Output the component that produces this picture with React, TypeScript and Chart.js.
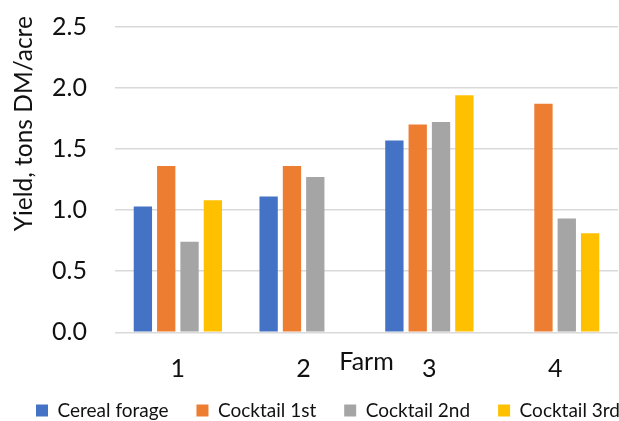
import React, { useEffect, useRef } from 'react';
import { Chart, registerables } from 'chart.js';

Chart.register(...registerables);

// ---- data ----
const FARMS = ['1', '2', '3', '4'];
const SERIES_LABELS = ['Cereal forage', 'Cocktail 1st', 'Cocktail 2nd', 'Cocktail 3rd'];
const CEREAL_FORAGE = [1.03, 1.11, 1.57, null];
const COCKTAIL_1ST = [1.36, 1.36, 1.7, 1.87];
const COCKTAIL_2ND = [0.74, 1.27, 1.72, 0.93];
const COCKTAIL_3RD = [1.08, null, 1.94, 0.81];
const Y_MIN = 0;
const Y_MAX = 2.5;
const Y_STEP = 0.5;
const X_TITLE = 'Farm';
const Y_TITLE = 'Yield, tons DM/acre';

const SERIES_VALUES = [CEREAL_FORAGE, COCKTAIL_1ST, COCKTAIL_2ND, COCKTAIL_3RD];
const COLORS = ['#4472C4', '#ED7D31', '#A5A5A5', '#FFC000'];
const TEXT = '#111111';
const GRID = '#d9d9d9';
const FONT = 'Lato';

const yTitlePlugin = {
  id: 'yTitle',
  afterDraw(chart: any) {
    const { ctx, chartArea } = chart;
    ctx.save();
    ctx.font = `24.5px ${FONT}`;
    ctx.fillStyle = TEXT;
    ctx.textAlign = 'center';
    ctx.textBaseline = 'alphabetic';
    ctx.translate(32, chartArea.top + 97);
    ctx.rotate(-Math.PI / 2);
    ctx.fillText(Y_TITLE, 0, 0);
    ctx.restore();
  },
};

export default function App() {
  const ref = useRef<HTMLCanvasElement | null>(null);

  useEffect(() => {
    document.body.style.margin = '0';
    const canvas = ref.current;
    if (!canvas) return;
    const chart = new Chart(canvas, {
      type: 'bar',
      data: {
        labels: FARMS,
        datasets: SERIES_LABELS.map((label, i) => ({
          label,
          data: SERIES_VALUES[i],
          backgroundColor: COLORS[i],
          borderWidth: 0,
          barPercentage: 0.785,
          categoryPercentage: 0.742,
          xAxisID: 'x',
          yAxisID: 'y',
        })),
      },
      options: {
        responsive: false,
        animation: false,
        layout: { padding: { left: 8, right: -60, top: 26.7, bottom: -9 } },
        plugins: {
          tooltip: { enabled: false },
          legend: {
            position: 'bottom',
            align: 'start',
            labels: {
              boxWidth: 12,
              boxHeight: 12,
              padding: 28,
              color: TEXT,
              font: { family: FONT, size: 19 },
            },
          },
        },
        scales: {
          x: {
            type: 'category',
            grid: { display: false, drawTicks: false },
            border: { display: false },
            ticks: {
              color: TEXT,
              font: { family: FONT, size: 25 },
              mirror: true,
              padding: -52,
            },
            title: {
              display: true,
              text: X_TITLE,
              color: TEXT,
              font: { family: FONT, size: 25 },
              padding: { top: 118.7, bottom: -4 },
            },
          },
          y: {
            type: 'linear',
            position: 'left',
            min: Y_MIN,
            max: Y_MAX,
            grid: {
              color: GRID,
              lineWidth: 1.5,
              drawTicks: true,
              tickLength: 25,
              tickColor: 'rgba(0,0,0,0)',
            },
            border: { display: false },
            ticks: {
              stepSize: Y_STEP,
              color: TEXT,
              font: { family: FONT, size: 25 },
              padding: 3,
              callback: (v: any) => Number(v).toFixed(1),
            },
            afterFit: (s: any) => {
              s.width = 107;
            },
          },
          y2: {
            type: 'linear',
            position: 'right',
            display: true,
            grid: { display: false, drawTicks: false },
            border: { display: false },
            ticks: { display: false },
            afterFit: (s: any) => {
              s.width = 61;
            },
          },
        },
      },
      plugins: [yTitlePlugin],
    } as any);
    return () => chart.destroy();
  }, []);

  return (
    <div style={{ width: 619, height: 421 }}>
      <canvas ref={ref} width={619} height={421} style={{ display: 'block' }} />
    </div>
  );
}
